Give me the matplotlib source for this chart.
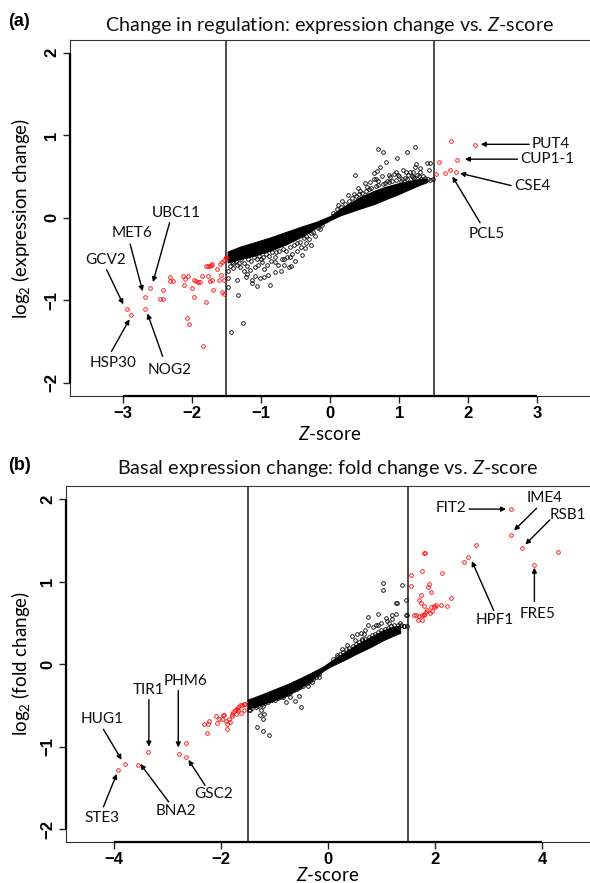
import matplotlib
matplotlib.use("Agg")
import matplotlib.pyplot as plt

plt.rcParams['font.family'] = ['Lato', 'DejaVu Sans']
plt.rcParams['mathtext.fontset'] = 'custom'
plt.rcParams['mathtext.rm'] = 'Lato'
plt.rcParams['mathtext.it'] = 'Lato:italic'
plt.rcParams['axes.unicode_minus'] = True

# ---------------- Panel (a) data ----------------
a_red_x = [-2.94, -2.88, -2.68, -2.67, -2.61, -2.46, -2.42, -2.41, -2.32, -2.27, -2.31, -2.13, -2.10,
           -2.05, -2.11, -2.07, -2.04, -2.00, -1.97, -1.97, -1.94, -1.91, -1.88, -1.85, -1.83, -1.79,
           -1.80, -1.77, -1.74, -1.72, -1.71, -1.76, -1.73, -1.70, -1.69, -1.64, -1.61, -1.57, -1.56,
           -1.54, -1.54, -1.59, -1.56, -1.53, -1.51, -1.50,
           1.75, 2.10, 1.57, 1.84, 1.54, 1.66, 1.73, 1.82]
a_red_y = [-1.11, -1.18, -0.96, -1.11, -0.85, -0.98, -0.98, -0.87, -0.72, -0.77, -0.77, -0.70, -0.74,
           -0.70, -0.81, -1.22, -1.29, -0.85, -0.96, -0.76, -0.77, -0.78, -0.78, -0.70, -1.56, -1.02,
           -0.58, -0.59, -0.58, -0.57, -0.56, -0.70, -0.77, -0.75, -0.87, -0.62, -0.76, -0.69, -0.90,
           -0.93, -0.75, -0.56, -0.54, -0.51, -0.49, -0.47,
           0.935, 0.88, 0.68, 0.70, 0.53, 0.54, 0.58, 0.55]

a_blk_x = [-1.33, -1.06, -1.13, -1.13, -0.87, -1.35, -1.48, -1.01, -0.95, -0.89, -0.80, -0.71, -0.60,
           -0.56, -0.51, -0.36, -0.27, -0.34, -1.25, -1.20, -1.16, -1.09, -1.04, -0.99, -0.91, -0.85,
           -0.79, -0.75, -0.67, -1.42, -1.35, -1.47, -1.40, -1.43, -1.26, -0.62, -0.55, -0.47, -0.42,
           -0.30, -0.22, -0.15, -0.70, -0.95, -1.20, -1.30, -1.45, -1.38, -1.00, -0.80, -1.47,
           -1.45, -1.40, -1.36, -1.32, -1.28, -1.24, -1.18, -1.14, -1.10, -1.06, -1.02, -0.97, -0.92,
           -0.88, -0.84, -0.78, -0.74, -0.68, -0.64, -0.58, -0.52, -0.48, -0.44, -0.38, -0.34, -0.28,
           -0.24, -0.18, -0.12, -1.22, -1.08, -0.66, -0.58, -0.40,
           0.69, 0.76, 1.23, 1.12, 0.97, 0.81, 0.36, 0.72, 0.68, 0.64, 0.92, 1.13, 1.23, 1.25, 1.40,
           1.45, 1.43, 1.30, 1.28, 1.20, 1.04, 0.87, 0.82, 0.63, 0.53, 0.43, 0.34, 0.26, 1.37, 1.45,
           1.49, 0.12, 0.18, 0.50, 0.58, 0.75, 0.95, 1.05, 1.15, 1.20, 1.34, 1.00, 0.70,
           0.05, 0.10, 0.16, 0.22, 0.28, 0.32, 0.38, 0.42, 0.47, 0.52, 0.56, 0.60, 0.66, 0.70, 0.76,
           0.80, 0.86, 0.90, 0.96, 1.02, 1.08, 1.12, 1.18, 1.22, 1.26, 1.32, 1.38, 1.42, 1.10, 0.98,
           0.85, 0.66, 0.40, 1.30]
a_blk_y = [-0.94, -0.83, -0.79, -0.75, -0.81, -0.75, -0.84, -0.73, -0.72, -0.69, -0.66, -0.65, -0.60,
           -0.59, -0.52, -0.37, -0.33, -0.31, -0.65, -0.68, -0.63, -0.60, -0.57, -0.54, -0.57, -0.52,
           -0.54, -0.57, -0.57, -0.54, -0.57, -0.65, -0.61, -1.38, -1.27, -0.47, -0.44, -0.40, -0.36,
           -0.26, -0.22, -0.14, -0.50, -0.62, -0.58, -0.60, -0.47, -0.50, -0.50, -0.47, -0.73,
           -0.58, -0.55, -0.52, -0.55, -0.50, -0.55, -0.50, -0.52, -0.48, -0.50, -0.46, -0.47, -0.44,
           -0.46, -0.42, -0.42, -0.40, -0.38, -0.40, -0.36, -0.33, -0.30, -0.29, -0.25, -0.22, -0.19,
           -0.17, -0.13, -0.09, -0.72, -0.70, -0.50, -0.48, -0.45,
           0.83, 0.80, 0.86, 0.80, 0.72, 0.68, 0.52, 0.62, 0.57, 0.54, 0.53, 0.52, 0.61, 0.65, 0.66,
           0.66, 0.58, 0.55, 0.51, 0.49, 0.47, 0.49, 0.45, 0.47, 0.37, 0.33, 0.29, 0.27, 0.46, 0.46,
           0.47, 0.16, 0.20, 0.42, 0.43, 0.50, 0.55, 0.58, 0.56, 0.55, 0.50, 0.50, 0.45,
           0.06, 0.10, 0.13, 0.17, 0.20, 0.24, 0.26, 0.29, 0.30, 0.32, 0.35, 0.36, 0.38, 0.40, 0.41,
           0.42, 0.43, 0.45, 0.46, 0.45, 0.48, 0.47, 0.50, 0.48, 0.52, 0.47, 0.48, 0.47, 0.55, 0.52,
           0.52, 0.47, 0.36, 0.60]

# dense core of overlapping points (edges)
a_band_x = [-1.48, -1.30, -1.10, -0.87, -0.63, -0.39, -0.20, 0.00, 0.15, 0.43, 0.65, 0.82, 1.00, 1.16, 1.30, 1.40]
a_band_lo = [-0.54, -0.50, -0.46, -0.40, -0.32, -0.22, -0.12, -0.03, 0.03, 0.11, 0.17, 0.23, 0.29, 0.35, 0.40, 0.43]
a_band_hi = [-0.41, -0.35, -0.30, -0.24, -0.17, -0.10, -0.05, 0.02, 0.11, 0.25, 0.33, 0.38, 0.42, 0.45, 0.47, 0.47]

# ---------------- Panel (b) data ----------------
b_red_x = [-3.80, -3.93, -3.56, -3.36, -2.79, -2.65, -2.65,
           -2.27, -2.31, -2.24, -2.22, -2.08, -1.99, -1.94, -1.89, -1.88, -1.91, -1.84, -1.80, -1.77,
           -1.74, -1.71, -1.68, -1.65, -1.61, -1.58, -1.55, -1.79, -1.72, -1.63, -1.57, -1.68, -2.10,
           -1.86, -2.04, -1.96,
           3.42, 3.42, 3.62, 4.30, 3.85, 2.77, 2.62, 2.55, 1.80, 1.82, 1.56, 1.75, 2.14, 1.55, 1.89,
           1.87, 1.92, 1.74, 2.30, 1.70, 1.73, 1.80, 1.92, 1.99, 2.02, 2.00, 2.12, 2.22, 1.86, 1.83,
           1.79, 1.80, 1.60, 1.64, 1.70, 1.75, 1.68, 1.76, 1.90, 1.94]
b_red_y = [-1.21, -1.28, -1.22, -1.07, -1.09, -0.95, -1.13,
           -0.83, -0.73, -0.72, -0.69, -0.71, -0.67, -0.62, -0.72, -0.79, -0.69, -0.70, -0.60, -0.58,
           -0.56, -0.54, -0.52, -0.50, -0.50, -0.48, -0.48, -0.63, -0.60, -0.59, -0.56, -0.56, -0.63,
           -0.66, -0.66, -0.62,
           1.88, 1.57, 1.41, 1.36, 1.20, 1.45, 1.30, 1.24, 1.35, 1.35, 1.08, 1.13, 1.10, 0.95, 0.97,
           0.93, 0.87, 0.84, 0.80, 0.78, 0.74, 0.70, 0.69, 0.70, 0.72, 0.69, 0.72, 0.70, 0.66, 0.63,
           0.61, 0.59, 0.59, 0.59, 0.58, 0.59, 0.53, 0.53, 0.62, 0.65]

b_blk_x = [1.03, 1.02, 1.38, 1.46, 1.28, 0.93, 0.75, 0.75, 0.93, 1.08, 1.19, 1.27, 1.46, 0.44, 0.36,
           0.27, 0.16, 0.61, 0.67, 0.63, 1.29, 1.47, 1.35, 1.42, 1.15, 0.85, 0.50,
           0.10, 0.16, 0.22, 0.28, 0.34, 0.40, 0.46, 0.52, 0.58, 0.64, 0.70, 0.76, 0.82, 0.88, 0.94,
           1.00, 1.06, 1.12, 1.18, 1.24, 1.30, 1.36, 1.42, 1.48, 1.10, 0.90, 0.70, 0.55, 1.20, 1.00,
           -0.17, -0.37, -0.51, -0.54, -0.62, -0.50, -0.79, -0.84, -0.72, -0.91, -1.05, -1.15, -1.22,
           -1.26, -1.22, -1.33, -1.22, -1.11, -1.42, -0.66, -0.71, -0.95, -1.35, -1.45, -0.30,
           -1.48, -1.42, -1.36, -1.30, -1.24, -1.18, -1.12, -1.06, -1.00, -0.94, -0.88, -0.82, -0.76,
           -0.70, -0.64, -0.58, -0.52, -0.46, -0.40, -0.34, -0.28, -0.22, -0.16, -1.20, -1.28]
b_blk_y = [0.98, 0.90, 0.96, 0.78, 0.74, 0.61, 0.57, 0.48, 0.47, 0.56, 0.60, 0.61, 0.60, 0.34, 0.23,
           0.18, 0.11, 0.38, 0.36, 0.31, 0.74, 0.59, 0.50, 0.46, 0.50, 0.45, 0.29,
           0.06, 0.09, 0.12, 0.15, 0.18, 0.20, 0.22, 0.25, 0.27, 0.29, 0.31, 0.33, 0.35, 0.37, 0.39,
           0.42, 0.43, 0.44, 0.46, 0.47, 0.48, 0.47, 0.46, 0.46, 0.52, 0.48, 0.42, 0.36, 0.55, 0.50,
           -0.15, -0.27, -0.25, -0.39, -0.45, -0.52, -0.46, -0.40, -0.40, -0.39, -0.44, -0.44, -0.51,
           -0.56, -0.66, -0.76, -0.81, -0.86, -0.48, -0.29, -0.35, -0.36, -0.52, -0.55, -0.22,
           -0.55, -0.53, -0.50, -0.51, -0.48, -0.47, -0.46, -0.44, -0.43, -0.41, -0.40, -0.37, -0.36,
           -0.33, -0.31, -0.30, -0.28, -0.26, -0.23, -0.21, -0.18, -0.15, -0.12, -0.60, -0.62]

b_band_x = [-1.50, -1.25, -1.02, -0.75, -0.52, -0.30, -0.09, 0.04, 0.30, 0.54, 0.80, 1.03, 1.20, 1.35]
b_band_lo = [-0.54, -0.49, -0.44, -0.37, -0.29, -0.19, -0.08, -0.03, 0.05, 0.13, 0.21, 0.29, 0.34, 0.38]
b_band_hi = [-0.43, -0.37, -0.31, -0.24, -0.17, -0.10, -0.03, 0.03, 0.14, 0.24, 0.33, 0.41, 0.45, 0.47]

# ---------------- annotation layout (text pos, arrow tail, arrow head, ha) ----------------
a_ann = {
    'PUT4':   ((2.91, 0.89), (2.88, 0.89), (2.18, 0.89), 'left'),
    'CUP1-1': ((2.75, 0.71), (2.71, 0.71), (1.95, 0.71), 'left'),
    'CSE4':   ((2.67, 0.39), (2.62, 0.39), (1.88, 0.54), 'left'),
    'PCL5':   ((2.26, -0.20), (2.17, -0.06), (1.77, 0.50), 'center'),
    'GCV2':   ((-3.25, -0.51), (-3.23, -0.63), (-2.99, -1.05), 'center'),
    'HSP30':  ((-3.14, -1.76), (-3.16, -1.62), (-2.90, -1.23), 'center'),
    'MET6':   ((-2.87, -0.19), (-2.89, -0.32), (-2.71, -0.89), 'center'),
    'UBC11':  ((-2.23, 0.06), (-2.32, -0.06), (-2.56, -0.78), 'center'),
    'NOG2':   ((-2.32, -1.84), (-2.42, -1.68), (-2.64, -1.16), 'center'),
}
b_ann = {
    'FIT2': ((2.59, 1.89), (2.64, 1.88), (3.33, 1.88), 'right'),
    'IME4': ((4.06, 2.02), (3.90, 1.89), (3.48, 1.62), 'center'),
    'RSB1': ((4.49, 1.81), (4.15, 1.75), (3.69, 1.45), 'center'),
    'HPF1': ((3.12, 0.53), (3.10, 0.65), (2.69, 1.25), 'center'),
    'FRE5': ((3.92, 0.61), (3.86, 0.76), (3.86, 1.17), 'center'),
    'HUG1': ((-4.23, -0.67), (-4.20, -0.79), (-3.86, -1.16), 'center'),
    'STE3': ((-4.23, -1.87), (-4.20, -1.73), (-3.95, -1.33), 'center'),
    'BNA2': ((-2.84, -1.78), (-2.98, -1.67), (-3.51, -1.21), 'center'),
    'TIR1': ((-3.35, -0.31), (-3.35, -0.43), (-3.35, -1.00), 'center'),
    'PHM6': ((-2.66, -0.20), (-2.80, -0.32), (-2.80, -1.01), 'center'),
    'GSC2': ((-2.14, -1.58), (-2.30, -1.47), (-2.61, -1.16), 'center'),
}

a_xticks = [-3, -2, -1, 0, 1, 2, 3]
b_xticks = [-4, -2, 0, 2, 4]
yticks = [-2, -1, 0, 1, 2]
cutoffs = [-1.5, 1.5]

W, H = 590, 883
fig = plt.figure(figsize=(W / 100, H / 100), dpi=100)


def px_rect(l, t, r, b):
    return [l / W, 1 - b / H, (r - l) / W, (b - t) / H]


ax_a = fig.add_axes(px_rect(70, 39.5, 590, 396))
ax_b = fig.add_axes(px_rect(66, 486, 590, 842.3))

MS = 2.6
MEW = 0.6


def fmt(t):
    return '\u2212%d' % -t if t < 0 else '%d' % t


def draw_panel(ax, band_x, band_lo, band_hi, blk_x, blk_y, red_x, red_y, ann, xticks, xlim):
    ax.fill_between(band_x, band_lo, band_hi, color='black', lw=0.8, edgecolor='black', zorder=2)
    ax.plot(blk_x, blk_y, 'o', ms=MS, mfc='none', mec='black', mew=MEW, zorder=3)
    ax.plot(red_x, red_y, 'o', ms=MS, mfc='none', mec='#ff0000', mew=MEW, zorder=3)
    for c in cutoffs:
        ax.axvline(c, color='#1a1a1a', lw=1.1, zorder=1)
    for name, (tpos, tail, head, ha) in ann.items():
        ax.annotate('', xy=head, xytext=tail,
                    arrowprops=dict(arrowstyle='-|>', lw=1.0, color='black',
                                    mutation_scale=7, shrinkA=0, shrinkB=0))
        ax.text(tpos[0], tpos[1], name, ha=ha, va='center', fontsize=11, color='#111111')
    ax.set_xlim(*xlim)
    ax.set_ylim(-2.16, 2.16)
    ax.set_xticks(xticks)
    ax.set_yticks(yticks)
    ax.set_xticklabels([fmt(t) for t in xticks],
                       fontfamily='Liberation Sans', fontweight='bold', fontsize=12)
    ax.set_yticklabels([fmt(t) for t in yticks],
                       fontfamily='Liberation Sans', fontweight='bold', fontsize=12,
                       rotation=90, va='center')
    ax.tick_params(axis='both', direction='out', length=5, width=1.0, color='#222222')
    ax.tick_params(axis='x', pad=2)
    ax.tick_params(axis='y', pad=3)
    ax.spines['right'].set_visible(False)
    for s in ['left', 'bottom', 'top']:
        ax.spines[s].set_linewidth(0.8)
        ax.spines[s].set_color('#333333')
    # R-style axis lines spanning first to last tick
    ax.plot([xticks[0], xticks[-1]], [-2.16, -2.16], color='black', lw=1.6,
            clip_on=False, zorder=5, solid_capstyle='butt')
    ax.plot([xlim[0], xlim[0]], [yticks[0], yticks[-1]], color='black', lw=1.6,
            clip_on=False, zorder=5, solid_capstyle='butt')


draw_panel(ax_a, a_band_x, a_band_lo, a_band_hi, a_blk_x, a_blk_y, a_red_x, a_red_y,
           a_ann, a_xticks, (-3.76, 3.76))
draw_panel(ax_b, b_band_x, b_band_lo, b_band_hi, b_blk_x, b_blk_y, b_red_x, b_red_y,
           b_ann, b_xticks, (-4.9, 4.9))

# titles and labels
fig.text(330 / W, 1 - 25 / H, 'Change in regulation: expression change vs. $Z$-score',
         ha='center', va='center', fontsize=14.2, color='#111111')
fig.text(328 / W, 1 - 469 / H, 'Basal expression change: fold change vs. $Z$-score',
         ha='center', va='center', fontsize=14.2, color='#111111')
fig.text(8 / W, 1 - 22 / H, '(a)', ha='left', va='center', fontsize=13,
         fontfamily='Liberation Sans', fontweight='bold')
fig.text(8 / W, 1 - 465 / H, '(b)', ha='left', va='center', fontsize=13,
         fontfamily='Liberation Sans', fontweight='bold')
fig.text(330 / W, 1 - 434 / H, '$Z$-score', ha='center', va='center', fontsize=13.5)
fig.text(328 / W, 1 - 875 / H, '$Z$-score', ha='center', va='center', fontsize=13.5)
fig.text(21 / W, 1 - 218 / H, 'log$_2$ (expression change)', ha='center', va='center',
         rotation=90, fontsize=13.5)
fig.text(21 / W, 1 - 664 / H, 'log$_2$ (fold change)', ha='center', va='center',
         rotation=90, fontsize=13.5)

fig.savefig('out.png', dpi=100)
